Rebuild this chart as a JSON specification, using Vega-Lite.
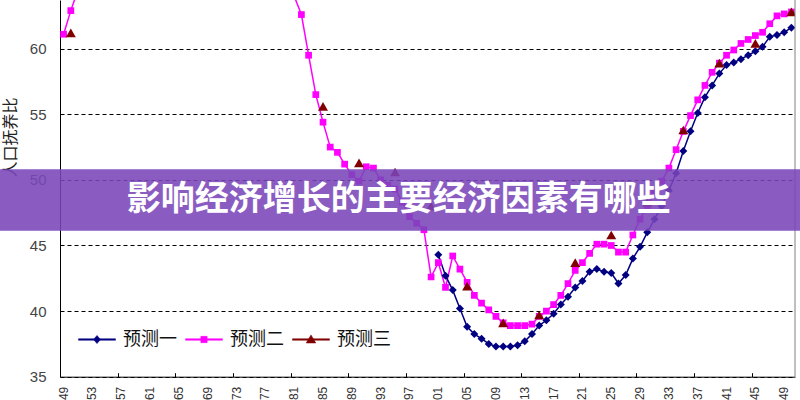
{
  "$schema": "https://vega.github.io/schema/vega-lite/v6.json",
  "width": 735,
  "height": 376.7,
  "autosize": "none",
  "padding": {"left": 60, "top": 0, "right": 5, "bottom": 23.3},
  "background": "white",
  "config": {"view": {"stroke": null}, "font": "Liberation Sans"},
  "datasets": {
    "series": [
      {"year": 1949, "series": "预测二", "value": 61.1},
      {"year": 1950, "series": "预测二", "value": 62.9},
      {"year": 1951, "series": "预测二", "value": 64.5},
      {"year": 1952, "series": "预测二", "value": 66},
      {"year": 1953, "series": "预测二", "value": 67.5},
      {"year": 1954, "series": "预测二", "value": 69},
      {"year": 1955, "series": "预测二", "value": 70.5},
      {"year": 1956, "series": "预测二", "value": 72},
      {"year": 1957, "series": "预测二", "value": 73.5},
      {"year": 1958, "series": "预测二", "value": 75},
      {"year": 1959, "series": "预测二", "value": 76},
      {"year": 1960, "series": "预测二", "value": 77},
      {"year": 1961, "series": "预测二", "value": 78},
      {"year": 1962, "series": "预测二", "value": 79},
      {"year": 1963, "series": "预测二", "value": 79.5},
      {"year": 1964, "series": "预测二", "value": 80},
      {"year": 1965, "series": "预测二", "value": 80.5},
      {"year": 1966, "series": "预测二", "value": 80.5},
      {"year": 1967, "series": "预测二", "value": 80.5},
      {"year": 1968, "series": "预测二", "value": 80.5},
      {"year": 1969, "series": "预测二", "value": 80},
      {"year": 1970, "series": "预测二", "value": 79.5},
      {"year": 1971, "series": "预测二", "value": 79},
      {"year": 1972, "series": "预测二", "value": 78},
      {"year": 1973, "series": "预测二", "value": 77},
      {"year": 1974, "series": "预测二", "value": 76},
      {"year": 1975, "series": "预测二", "value": 75},
      {"year": 1976, "series": "预测二", "value": 73.5},
      {"year": 1977, "series": "预测二", "value": 72},
      {"year": 1978, "series": "预测二", "value": 70.5},
      {"year": 1979, "series": "预测二", "value": 69},
      {"year": 1980, "series": "预测二", "value": 67},
      {"year": 1981, "series": "预测二", "value": 64},
      {"year": 1982, "series": "预测二", "value": 62.6},
      {"year": 1983, "series": "预测二", "value": 59.5},
      {"year": 1984, "series": "预测二", "value": 56.5},
      {"year": 1985, "series": "预测二", "value": 54.4},
      {"year": 1986, "series": "预测二", "value": 52.5},
      {"year": 1987, "series": "预测二", "value": 52.1},
      {"year": 1988, "series": "预测二", "value": 51.2},
      {"year": 1989, "series": "预测二", "value": 50.4},
      {"year": 1990, "series": "预测二", "value": 49.9},
      {"year": 1991, "series": "预测二", "value": 51.0},
      {"year": 1992, "series": "预测二", "value": 50.9},
      {"year": 1993, "series": "预测二", "value": 50.0},
      {"year": 1994, "series": "预测二", "value": 49.6},
      {"year": 1995, "series": "预测二", "value": 49.3},
      {"year": 1996, "series": "预测二", "value": 48.3},
      {"year": 1997, "series": "预测二", "value": 47.2},
      {"year": 1998, "series": "预测二", "value": 46.7},
      {"year": 1999, "series": "预测二", "value": 46.2},
      {"year": 2000, "series": "预测二", "value": 42.6},
      {"year": 2001, "series": "预测二", "value": 43.7},
      {"year": 2002, "series": "预测二", "value": 41.8},
      {"year": 2003, "series": "预测二", "value": 44.2},
      {"year": 2004, "series": "预测二", "value": 43.2},
      {"year": 2005, "series": "预测二", "value": 42.2},
      {"year": 2006, "series": "预测二", "value": 41.2},
      {"year": 2007, "series": "预测二", "value": 40.6},
      {"year": 2008, "series": "预测二", "value": 40.1},
      {"year": 2009, "series": "预测二", "value": 39.6},
      {"year": 2010, "series": "预测二", "value": 39.1},
      {"year": 2011, "series": "预测二", "value": 38.9},
      {"year": 2012, "series": "预测二", "value": 38.9},
      {"year": 2013, "series": "预测二", "value": 38.9},
      {"year": 2014, "series": "预测二", "value": 39.0},
      {"year": 2015, "series": "预测二", "value": 39.6},
      {"year": 2016, "series": "预测二", "value": 40.0},
      {"year": 2017, "series": "预测二", "value": 40.5},
      {"year": 2018, "series": "预测二", "value": 41.2},
      {"year": 2019, "series": "预测二", "value": 42.1},
      {"year": 2020, "series": "预测二", "value": 43.1},
      {"year": 2021, "series": "预测二", "value": 43.7},
      {"year": 2022, "series": "预测二", "value": 44.4},
      {"year": 2023, "series": "预测二", "value": 45.1},
      {"year": 2024, "series": "预测二", "value": 45.1},
      {"year": 2025, "series": "预测二", "value": 45.0},
      {"year": 2026, "series": "预测二", "value": 44.5},
      {"year": 2027, "series": "预测二", "value": 44.5},
      {"year": 2028, "series": "预测二", "value": 45.8},
      {"year": 2029, "series": "预测二", "value": 47.0},
      {"year": 2030, "series": "预测二", "value": 48.0},
      {"year": 2031, "series": "预测二", "value": 49.0},
      {"year": 2032, "series": "预测二", "value": 49.9},
      {"year": 2033, "series": "预测二", "value": 50.9},
      {"year": 2034, "series": "预测二", "value": 52.3},
      {"year": 2035, "series": "预测二", "value": 53.7},
      {"year": 2036, "series": "预测二", "value": 54.9},
      {"year": 2037, "series": "预测二", "value": 56.1},
      {"year": 2038, "series": "预测二", "value": 57.2},
      {"year": 2039, "series": "预测二", "value": 58.2},
      {"year": 2040, "series": "预测二", "value": 58.9},
      {"year": 2041, "series": "预测二", "value": 59.5},
      {"year": 2042, "series": "预测二", "value": 59.9},
      {"year": 2043, "series": "预测二", "value": 60.4},
      {"year": 2044, "series": "预测二", "value": 60.7},
      {"year": 2045, "series": "预测二", "value": 61.0},
      {"year": 2046, "series": "预测二", "value": 61.25},
      {"year": 2047, "series": "预测二", "value": 61.9},
      {"year": 2048, "series": "预测二", "value": 62.5},
      {"year": 2049, "series": "预测二", "value": 62.65},
      {"year": 2050, "series": "预测二", "value": 62.8},
      {"year": 2001, "series": "预测一", "value": 44.3},
      {"year": 2002, "series": "预测一", "value": 42.7},
      {"year": 2003, "series": "预测一", "value": 41.6},
      {"year": 2004, "series": "预测一", "value": 40.2},
      {"year": 2005, "series": "预测一", "value": 38.8},
      {"year": 2006, "series": "预测一", "value": 38.25},
      {"year": 2007, "series": "预测一", "value": 37.9},
      {"year": 2008, "series": "预测一", "value": 37.5},
      {"year": 2009, "series": "预测一", "value": 37.3},
      {"year": 2010, "series": "预测一", "value": 37.3},
      {"year": 2011, "series": "预测一", "value": 37.3},
      {"year": 2012, "series": "预测一", "value": 37.4},
      {"year": 2013, "series": "预测一", "value": 37.7},
      {"year": 2014, "series": "预测一", "value": 38.25},
      {"year": 2015, "series": "预测一", "value": 38.9},
      {"year": 2016, "series": "预测一", "value": 39.3},
      {"year": 2017, "series": "预测一", "value": 39.8},
      {"year": 2018, "series": "预测一", "value": 40.5},
      {"year": 2019, "series": "预测一", "value": 41.1},
      {"year": 2020, "series": "预测一", "value": 41.8},
      {"year": 2021, "series": "预测一", "value": 42.3},
      {"year": 2022, "series": "预测一", "value": 43.0},
      {"year": 2023, "series": "预测一", "value": 43.2},
      {"year": 2024, "series": "预测一", "value": 43.0},
      {"year": 2025, "series": "预测一", "value": 42.9},
      {"year": 2026, "series": "预测一", "value": 42.1},
      {"year": 2027, "series": "预测一", "value": 42.75},
      {"year": 2028, "series": "预测一", "value": 44.0},
      {"year": 2029, "series": "预测一", "value": 44.9},
      {"year": 2030, "series": "预测一", "value": 46.0},
      {"year": 2031, "series": "预测一", "value": 47.0},
      {"year": 2032, "series": "预测一", "value": 48.0},
      {"year": 2033, "series": "预测一", "value": 49.2},
      {"year": 2034, "series": "预测一", "value": 50.5},
      {"year": 2035, "series": "预测一", "value": 52.2},
      {"year": 2036, "series": "预测一", "value": 53.7},
      {"year": 2037, "series": "预测一", "value": 55.1},
      {"year": 2038, "series": "预测一", "value": 56.3},
      {"year": 2039, "series": "预测一", "value": 57.2},
      {"year": 2040, "series": "预测一", "value": 58.1},
      {"year": 2041, "series": "预测一", "value": 58.75},
      {"year": 2042, "series": "预测一", "value": 58.95},
      {"year": 2043, "series": "预测一", "value": 59.2},
      {"year": 2044, "series": "预测一", "value": 59.5},
      {"year": 2045, "series": "预测一", "value": 59.8},
      {"year": 2046, "series": "预测一", "value": 60.15},
      {"year": 2047, "series": "预测一", "value": 60.9},
      {"year": 2048, "series": "预测一", "value": 61.05},
      {"year": 2049, "series": "预测一", "value": 61.25},
      {"year": 2050, "series": "预测一", "value": 61.6},
      {"year": 1950, "series": "预测三", "value": 61.2},
      {"year": 1985, "series": "预测三", "value": 55.6},
      {"year": 1990, "series": "预测三", "value": 51.3},
      {"year": 1995, "series": "预测三", "value": 50.6},
      {"year": 2000, "series": "预测三", "value": 48.0},
      {"year": 2005, "series": "预测三", "value": 41.9},
      {"year": 2010, "series": "预测三", "value": 39.1},
      {"year": 2015, "series": "预测三", "value": 39.7},
      {"year": 2020, "series": "预测三", "value": 43.7},
      {"year": 2025, "series": "预测三", "value": 45.8},
      {"year": 2030, "series": "预测三", "value": 48.3},
      {"year": 2035, "series": "预测三", "value": 53.8},
      {"year": 2040, "series": "预测三", "value": 58.9},
      {"year": 2045, "series": "预测三", "value": 60.4},
      {"year": 2050, "series": "预测三", "value": 62.8}
    ],
    "banner": [{"title": "影响经济增长的主要经济因素有哪些"}]
  },
  "data": {"name": "series"},
  "layer": [
    {
      "transform": [{"filter": "datum.series !== '预测三'"}],
      "mark": {"type": "line", "strokeWidth": 1.5, "clip": true},
      "encoding": {
        "x": {
          "field": "year",
          "type": "quantitative",
          "scale": {"domain": [1948.5, 2050.5], "nice": false, "zero": false},
          "axis": {
            "title": null,
            "grid": false,
            "labels": false,
            "values": [1948.5, 1949.5, 1950.5, 1951.5, 1952.5, 1953.5, 1954.5, 1955.5, 1956.5, 1957.5,
                       1958.5, 1959.5, 1960.5, 1961.5, 1962.5, 1963.5, 1964.5, 1965.5, 1966.5, 1967.5,
                       1968.5, 1969.5, 1970.5, 1971.5, 1972.5, 1973.5, 1974.5, 1975.5, 1976.5, 1977.5,
                       1978.5, 1979.5, 1980.5, 1981.5, 1982.5, 1983.5, 1984.5, 1985.5, 1986.5, 1987.5,
                       1988.5, 1989.5, 1990.5, 1991.5, 1992.5, 1993.5, 1994.5, 1995.5, 1996.5, 1997.5,
                       1998.5, 1999.5, 2000.5, 2001.5, 2002.5, 2003.5, 2004.5, 2005.5, 2006.5, 2007.5,
                       2008.5, 2009.5, 2010.5, 2011.5, 2012.5, 2013.5, 2014.5, 2015.5, 2016.5, 2017.5,
                       2018.5, 2019.5, 2020.5, 2021.5, 2022.5, 2023.5, 2024.5, 2025.5, 2026.5, 2027.5,
                       2028.5, 2029.5, 2030.5, 2031.5, 2032.5, 2033.5, 2034.5, 2035.5, 2036.5, 2037.5,
                       2038.5, 2039.5, 2040.5, 2041.5, 2042.5, 2043.5, 2044.5, 2045.5, 2046.5, 2047.5,
                       2048.5, 2049.5, 2050.5],
            "domainColor": "#000000",
            "tickColor": "#000000",
            "tickSize": -4
          }
        },
        "y": {
          "field": "value",
          "type": "quantitative",
          "scale": {"domain": [35, 63.71], "nice": false, "zero": false},
          "axis": {
            "values": [35, 40, 45, 50, 55, 60],
            "grid": true,
            "gridColor": "#000000",
            "gridDash": [4, 3],
            "gridWidth": 1,
            "domainColor": "#000000",
            "ticks": false,
            "labelPadding": 14,
            "labelFontSize": 15,
            "labelColor": "#444444",
            "title": "人口抚养比",
            "titleFont": "Noto Sans CJK SC",
            "titleFontSize": 16,
            "titleFontWeight": "normal",
            "titleColor": "#222222",
            "titleX": -50,
            "titleY": 137,
            "titleAlign": "center",
            "titleBaseline": "middle"
          }
        },
        "color": {
          "field": "series",
          "type": "nominal",
          "scale": {"domain": ["预测一", "预测二", "预测三"], "range": ["#000080", "#FF00FF", "#800000"]},
          "legend": {
            "title": null,
            "orient": "none",
            "legendX": 18,
            "legendY": 320.5,
            "direction": "horizontal",
            "padding": 0,
            "symbolSize": 1369,
            "labelFont": "Noto Sans CJK SC",
            "labelFontSize": 18,
            "labelColor": "#111111",
            "labelOffset": 7,
            "columnPadding": 7,
            "encode": {
              "symbols": {
                "update": {
                  "shape": {"signal": "datum.value === '预测一' ? 'M-1,-0.04H1V0.04H-1Z M0,-0.22L0.19,0L0,0.22L-0.19,0Z' : datum.value === '预测二' ? 'M-1,-0.04H1V0.04H-1Z M-0.17,-0.17H0.17V0.17H-0.17Z' : 'M-1,-0.04H1V0.04H-1Z M0,-0.25L0.26,0.19H-0.26Z'"},
                  "fill": {"signal": "datum.value === '预测一' ? '#000080' : datum.value === '预测二' ? '#FF00FF' : '#800000'"},
                  "stroke": {"signal": "datum.value === '预测一' ? '#000080' : datum.value === '预测二' ? '#FF00FF' : '#800000'"},
                  "strokeWidth": {"value": 0.5},
                  "opacity": {"value": 1}
                }
              }
            }
          }
        }
      }
    },
    {
      "transform": [{"filter": "datum.series !== '预测三'"}],
      "mark": {"type": "point", "filled": true, "opacity": 1, "clip": true},
      "encoding": {
        "x": {"field": "year", "type": "quantitative"},
        "y": {"field": "value", "type": "quantitative"},
        "color": {"field": "series", "type": "nominal", "legend": null},
        "shape": {
          "field": "series",
          "type": "nominal",
          "scale": {"domain": ["预测一", "预测二"], "range": ["diamond", "square"]},
          "legend": null
        },
        "size": {
          "field": "series",
          "type": "nominal",
          "scale": {"domain": ["预测一", "预测二"], "range": [64, 45]},
          "legend": null
        }
      }
    },
    {
      "transform": [{"filter": "datum.series === '预测三'"}],
      "mark": {"type": "point", "filled": true, "opacity": 1, "size": 100, "shape": "triangle-up", "clip": true},
      "encoding": {
        "x": {"field": "year", "type": "quantitative"},
        "y": {"field": "value", "type": "quantitative"},
        "color": {"field": "series", "type": "nominal", "legend": null}
      }
    },
    {
      "transform": [{"filter": "datum.series === '预测二' && (datum.year - 1949) % 4 === 0"}],
      "mark": {"type": "text", "angle": 270, "align": "right", "baseline": "middle", "dx": -10, "fontSize": 12, "color": "#333333", "font": "Liberation Sans"},
      "encoding": {
        "x": {"field": "year", "type": "quantitative"},
        "y": {"datum": 35},
        "text": {"field": "year", "type": "quantitative", "format": "d"}
      }
    },
    {
      "data": {"values": [{}]},
      "mark": {"type": "rule", "color": "#808080", "strokeWidth": 1},
      "encoding": {"x": {"datum": 2050.5}}
    },
    {
      "data": {"name": "banner"},
      "layer": [
        {
          "mark": {"type": "rect", "color": "#7A45B9", "opacity": 0.88},
          "encoding": {
            "x": {"datum": 1940.174},
            "x2": {"datum": 2051.194},
            "y": {"datum": 46.13},
            "y2": {"datum": 50.81}
          }
        },
        {
          "mark": {"type": "text", "font": "Noto Sans CJK SC", "fontSize": 34, "fontWeight": "bold", "color": "#FFFFFF", "align": "center", "baseline": "middle"},
          "encoding": {
            "x": {"datum": 1995.5},
            "y": {"datum": 48.43},
            "text": {"field": "title"}
          }
        }
      ]
    }
  ]
}
